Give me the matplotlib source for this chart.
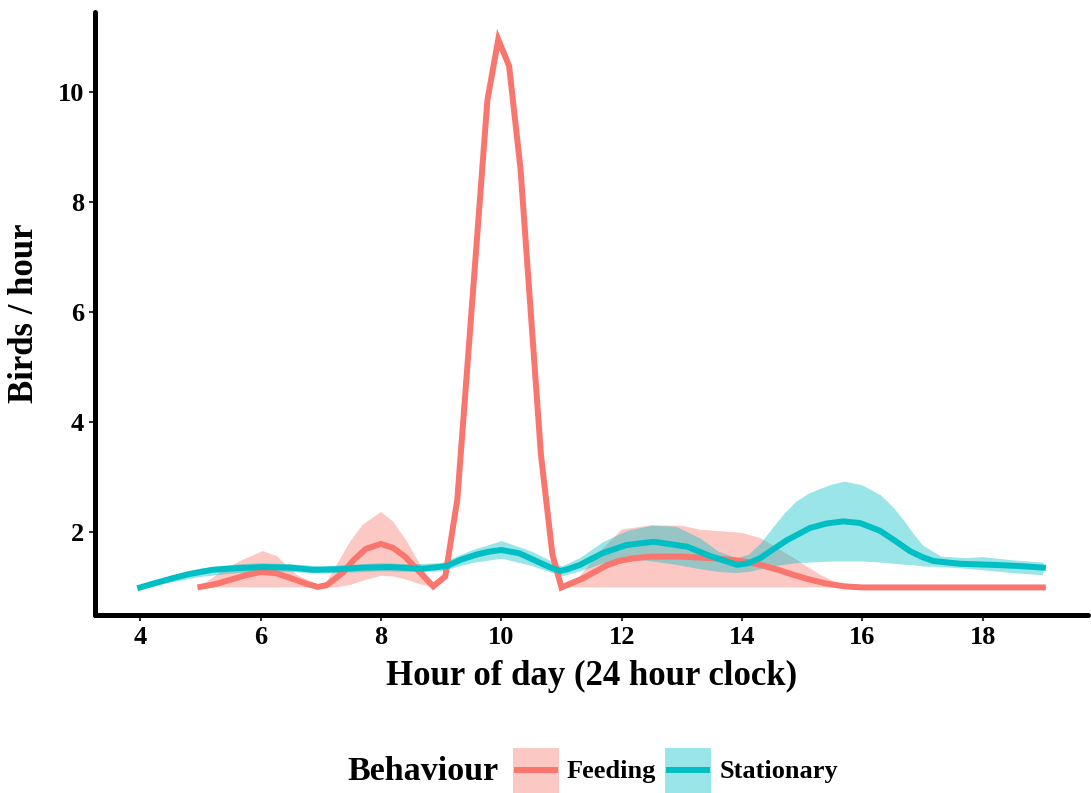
import numpy as np
import matplotlib
matplotlib.use('Agg')
import matplotlib.pyplot as plt
from matplotlib.patches import Rectangle
from matplotlib.lines import Line2D

plt.rcParams['font.family'] = ['Liberation Serif', 'DejaVu Serif']
plt.rcParams['font.weight'] = 'bold'

# Feeding - smoothed line
feed_x = [5.0, 5.25, 5.5, 5.75, 6.0, 6.25, 6.5, 6.75, 6.95, 7.1, 7.37, 7.55, 7.75, 8.0,
          8.2, 8.4, 8.6, 8.87, 9.07, 9.27, 9.77, 9.95, 10.13, 10.32, 10.66, 10.85, 11.0,
          11.15, 11.35, 11.55, 11.75, 11.95, 12.2, 12.5, 13.0, 13.5, 13.85, 14.1, 14.3,
          14.6, 14.85, 15.1, 15.4, 15.7, 16.0, 19.0]
feed_y = [1.01, 1.06, 1.14, 1.22, 1.28, 1.26, 1.17, 1.07, 1.01, 1.04, 1.27, 1.5, 1.7, 1.79,
          1.72, 1.56, 1.33, 1.02, 1.2, 2.6, 9.85, 10.95, 10.47, 8.6, 3.4, 1.6, 1.0,
          1.07, 1.16, 1.28, 1.4, 1.48, 1.53, 1.56, 1.56, 1.53, 1.5, 1.46, 1.41,
          1.32, 1.23, 1.15, 1.07, 1.02, 1.0, 1.0]
# Feeding - confidence band (nan = gap)
feed_bx = [5.0, 5.3, 5.66, 6.04, 6.27, 6.6, 6.95, 7.1, 7.27, 7.5, 7.7, 8.0, 8.2, 8.43, 8.65, 8.87,
           9.5,
           10.98, 11.3, 11.65, 12.0, 12.5, 13.0, 13.3, 14.0, 14.3, 14.85, 15.3, 15.68, 16.0]
feed_lo = [1.0, 1.0, 1.0, 1.0, 1.0, 1.0, 1.0, 1.0, 1.0, 1.05, 1.12, 1.21, 1.2, 1.14, 1.06, 1.0,
           np.nan,
           1.0, 1.0, 1.0, 1.0, 1.0, 1.0, 1.0, 1.0, 1.0, 1.0, 1.0, 1.0, 1.0]
feed_hi = [1.02, 1.25, 1.48, 1.66, 1.57, 1.23, 1.05, 1.1, 1.42, 1.85, 2.14, 2.37, 2.2, 1.84, 1.42, 1.05,
           np.nan,
           1.03, 1.2, 1.66, 2.05, 2.13, 2.12, 2.05, 1.99, 1.9, 1.54, 1.23, 1.03, 1.0]

# Stationary - smoothed line
stat_x = [4.0, 4.25, 4.55, 4.8, 5.2, 5.6, 6.04, 6.5, 6.87, 7.3, 7.7, 8.15, 8.7, 9.1, 9.32, 9.6,
          9.8, 10.0, 10.3, 10.6, 10.8, 10.98, 11.1, 11.31, 11.5, 11.7, 12.08, 12.53, 13.09,
          13.47, 13.92, 14.1, 14.3, 14.5, 14.75, 15.13, 15.4, 15.68, 15.96, 16.29, 16.5,
          16.79, 17.0, 17.18, 17.62, 18.17, 18.6, 19.0]
stat_y = [1.0, 1.08, 1.17, 1.24, 1.32, 1.35, 1.37, 1.36, 1.32, 1.33, 1.36, 1.37, 1.34, 1.39, 1.5, 1.6,
          1.65, 1.68, 1.62, 1.47, 1.37, 1.3, 1.33, 1.41, 1.52, 1.63, 1.77, 1.83, 1.74,
          1.57, 1.41, 1.44, 1.53, 1.68, 1.86, 2.08, 2.16, 2.2, 2.17, 2.03, 1.88,
          1.66, 1.55, 1.48, 1.43, 1.41, 1.39, 1.36]
# Stationary - confidence band
stat_bx = [4.0, 4.5, 5.0, 5.5, 6.0, 6.5, 7.0, 7.5, 8.0, 8.5, 9.0, 9.5, 10.0, 10.5, 11.0, 11.3,
           11.7, 12.1, 12.5, 12.9, 13.3, 13.6, 13.9, 14.1, 14.3, 14.5, 14.7, 14.9, 15.1, 15.3,
           15.5, 15.7, 16.0, 16.3, 16.5, 16.7, 16.85, 17.0, 17.3, 17.7, 18.0, 18.5, 19.0]
stat_lo = [0.97, 1.1, 1.2, 1.26, 1.3, 1.29, 1.26, 1.28, 1.3, 1.29, 1.3, 1.45, 1.53, 1.4, 1.21, 1.3,
           1.45, 1.54, 1.48, 1.42, 1.34, 1.29, 1.27, 1.29, 1.34, 1.39, 1.42, 1.45, 1.46, 1.47,
           1.48, 1.48, 1.48, 1.46, 1.44, 1.42, 1.41, 1.39, 1.38, 1.35, 1.32, 1.27, 1.23]
stat_hi = [1.03, 1.22, 1.35, 1.42, 1.45, 1.43, 1.39, 1.42, 1.45, 1.43, 1.45, 1.68, 1.85, 1.66, 1.39, 1.54,
           1.84, 2.04, 2.13, 2.11, 1.9, 1.66, 1.54, 1.6, 1.8, 2.08, 2.35, 2.57, 2.71, 2.8,
           2.88, 2.93, 2.86, 2.68, 2.47, 2.2, 1.97, 1.77, 1.57, 1.54, 1.56, 1.5, 1.46]

x_ticks = [4, 6, 8, 10, 12, 14, 16, 18]
y_ticks = [2, 4, 6, 8, 10]
labels = ['Feeding', 'Stationary']

red = '#F8766D'
teal = '#00BFC4'

fig = plt.figure(figsize=(10.91, 7.93), dpi=100)
ax = fig.add_axes([0.0871, 0.2245, 0.9102, 0.7604])

ax.fill_between(feed_bx, feed_lo, feed_hi, color=red, alpha=0.4, linewidth=0)
ax.plot(feed_x, feed_y, color=red, linewidth=4.3, solid_joinstyle='miter')
ax.fill_between(stat_bx, stat_lo, stat_hi, color=teal, alpha=0.4, linewidth=0)
ax.plot(stat_x, stat_y, color=teal, linewidth=4.3)

ax.set_xlim(3.25, 19.75)
ax.set_ylim(0.5, 11.45)
ax.set_xticks(x_ticks)
ax.set_yticks(y_ticks)
ax.tick_params(axis='both', length=4, width=1.5, color='#333333', labelsize=19, pad=4)
for lab in ax.get_xticklabels() + ax.get_yticklabels():
    lab.set_fontweight('bold')

for s in ['top', 'right']:
    ax.spines[s].set_visible(False)
for s in ['left', 'bottom']:
    ax.spines[s].set_linewidth(3.6)
    ax.spines[s].set_capstyle('round')

ax.set_xlabel('Hour of day (24 hour clock)', fontsize=25, fontweight='bold', labelpad=8)
ax.set_ylabel('Birds / hour', fontsize=25, fontweight='bold', labelpad=12)

# legend at bottom, drawn by hand (ggplot style, title on the left)
fig.text(0.318, 0.0265, 'Behaviour', fontsize=24.5, fontweight='bold', va='center', ha='left')
key_left = [0.4702, 0.6095]
text_left = [0.5197, 0.6600]
for kx, tx, c, lab in zip(key_left, text_left, [red, teal], labels):
    fig.add_artist(Rectangle((kx, 0.0), 0.0422, 0.0567, transform=fig.transFigure,
                             facecolor=c, alpha=0.4, edgecolor='none'))
    fig.add_artist(Line2D([kx + 0.0037, kx + 0.0385], [0.029, 0.029], transform=fig.transFigure,
                          color=c, linewidth=4.3))
    fig.text(tx, 0.0265, lab, fontsize=19, fontweight='bold', va='center', ha='left')

fig.savefig('out.png', dpi=100)
